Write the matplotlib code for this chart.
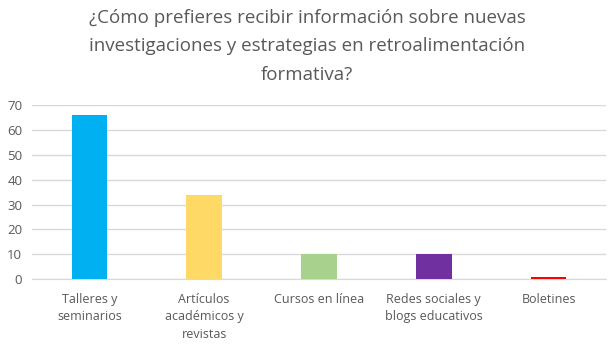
import matplotlib
matplotlib.use("Agg")
import matplotlib.pyplot as plt

categories = ["Talleres y\nseminarios", "Artículos\nacadémicos y\nrevistas", "Cursos en línea",
              "Redes sociales y\nblogs educativos", "Boletines"]
values = [66, 34, 10, 10, 1]
colors = ["#00B0F0", "#FFD966", "#A9D18E", "#7030A0", "#FF0000"]
title = "¿Cómo prefieres recibir información sobre nuevas\ninvestigaciones y estrategias en retroalimentación\nformativa?"

plt.rcParams['font.family'] = ['Open Sans', 'DejaVu Sans']
fig = plt.figure(figsize=(6.14, 3.48), dpi=100)
ax = fig.add_axes([0.052, 0.198, 0.935, 0.5])
x = range(len(categories))
ax.bar(x, values, width=0.31, color=colors, zorder=3)
ax.set_ylim(0, 70)
ax.set_xlim(-0.5, len(categories) - 0.5)
ax.set_yticks(range(0, 71, 10))
ax.set_xticks(list(x))
ax.set_xticklabels(categories, fontsize=9, color="#595959", linespacing=1.45)
ax.tick_params(axis='y', labelsize=9.5, colors="#595959", length=0, pad=7)
ax.tick_params(axis='x', length=0, pad=10)
ax.grid(axis='y', color="#D9D9D9", linewidth=1, zorder=0)
for s in ["top", "right", "left"]:
    ax.spines[s].set_visible(False)
ax.spines["bottom"].set_color("#D9D9D9")
fig.text(0.5, 0.975, title, ha="center", va="top", fontsize=13.5, color="#595959", linespacing=1.75)
fig.savefig("out.png", dpi=100)
